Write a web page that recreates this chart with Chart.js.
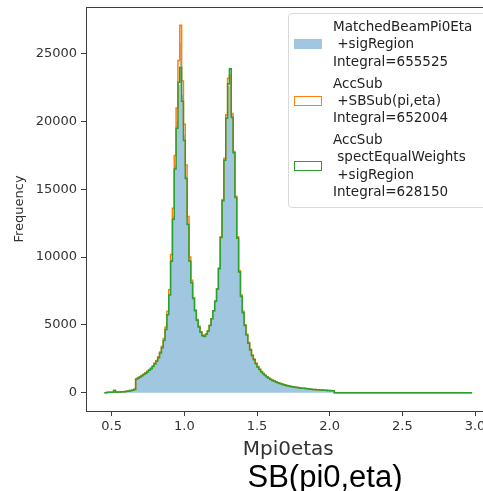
<!DOCTYPE html>
<html>
<head>
<meta charset="utf-8">
<script src="https://cdn.jsdelivr.net/npm/chart.js@4.4.1/dist/chart.umd.min.js"></script>
<style>
  html, body { margin: 0; padding: 0; background: #fff; }
  #wrap { position: relative; width: 483px; height: 491px; overflow: hidden; }
  #chart { position: absolute; left: 0; top: 0; }
  #legend {
    position: absolute; left: 288px; top: 13px; width: 205px; height: 195px;
    border: 1px solid #d9d9d9; border-radius: 4px; background: rgba(255,255,255,0.8);
    font-family: "DejaVu Sans", sans-serif; font-size: 13.5px; color: #222;
    box-sizing: border-box; padding-top: 4px;
  }
  .entry { display: flex; align-items: center; margin-bottom: 4.3px; }
  .handle { width: 28px; height: 10px; margin-left: 5px; margin-right: 11px; box-sizing: border-box; flex: none; }
  .text { white-space: pre; line-height: 17.4px; }
  #title {
    position: absolute; left: 325px; top: 461px; transform: translateX(-50%);
    font-family: "Liberation Sans", Arial, sans-serif; font-size: 31px; line-height: 31px;
    color: #000; white-space: nowrap;
  }
</style>
</head>
<body>
<div id="wrap">
  <canvas id="chart" width="520" height="491"></canvas>
  <div id="legend"></div>
  <div id="title">SB(pi0,eta)</div>
</div>
<script>
// histogram binning (200 bins between binLo and binHi, only the filled ones listed)
const binLo = 0.45;
const binHi = 2.98;
const nBins = 200;

const xTicks = [0.5, 1.0, 1.5, 2.0, 2.5, 3.0];
const yTicks = [0, 5000, 10000, 15000, 20000, 25000];

const seriesLabels = [
  'MatchedBeamPi0Eta\n +sigRegion',
  'AccSub\n +SBSub(pi,eta)',
  'AccSub\n spectEqualWeights\n +sigRegion'
];
const integrals = [655525, 652004, 628150];

// MatchedBeamPi0Eta +sigRegion
const sigCounts = [
  0, 0, 10, 20, 20, 30, 160, 30, 40, 50, 60, 70, 90, 110, 130, 160, 190, 250,
  1000, 1100, 1180, 1260, 1350, 1450, 1560, 1680, 1800, 1950, 2150, 2350, 2600, 2950, 3350,
  3900, 4700, 5800, 7300, 9800, 13000, 16800, 20000, 22700, 25800, 22000, 19000, 16000, 12500,
  9800, 8200, 7000, 6100, 5400, 4900, 4500, 4250, 4200, 4350, 4600, 5000, 5500, 6100, 6800, 7700, 9200, 11500, 14200,
  17200, 20300, 22600, 23000, 20500,
  17800, 14500, 11500, 9000, 7200, 6000, 5000, 4300, 3700, 3200,
  2800, 2500, 2200, 1950, 1750, 1580, 1430, 1300, 1190, 1090,
  1000, 930, 870, 810, 750, 700, 650, 610, 570, 535,
  500, 470, 445, 420, 400, 380, 360, 340, 325, 310,
  295, 280, 265, 250, 240, 230, 220, 210, 200, 190,
  180, 170, 160, 150, 140
];

// AccSub +SBSub(pi,eta)
const sbSubCounts = [
  0, 0, 10, 20, 20, 30, 150, 30, 40, 50, 60, 70, 90, 110, 130, 160, 190, 250,
  1000, 1100, 1180, 1270, 1360, 1460, 1570, 1690, 1820, 1970, 2180, 2380, 2640, 3000, 3420,
  4000, 4850, 6000, 7600, 10200, 13600, 17500, 21000, 24500, 27100, 23000, 19800, 16800, 13000,
  10000, 8300, 7000, 6100, 5400, 4900, 4500, 4250, 4200, 4300, 4550, 4950, 5450, 6050, 6750, 7650, 9200, 11500, 14250,
  17300, 20500, 23200, 23400, 20600,
  17800, 14500, 11500, 9000, 7200, 6000, 5000, 4300, 3700, 3200,
  2780, 2480, 2180, 1930, 1730, 1560, 1410, 1280, 1170, 1070,
  980, 910, 850, 790, 735, 685, 635, 595, 555, 520,
  490, 460, 435, 410, 390, 370, 350, 330, 315, 300,
  285, 270, 255, 240, 230, 220, 210, 200, 190, 180,
  170, 160, 150, 140, 130
];

// AccSub spectEqualWeights +sigRegion
const eqWeightCounts = [
  0, 0, 10, 20, 20, 30, 150, 30, 40, 50, 60, 70, 85, 105, 125, 150, 180, 240,
  980, 1080, 1160, 1240, 1330, 1420, 1530, 1650, 1770, 1920, 2120, 2320, 2570, 2920, 3320,
  3850, 4650, 5750, 7200, 9700, 12800, 16500, 19500, 22900, 24000, 21500, 18600, 15800, 12400,
  9700, 8100, 6950, 6050, 5350, 4850, 4450, 4200, 4150, 4300, 4550, 4950, 5450, 6050, 6750, 7650, 9150, 11450, 14150,
  17150, 20250, 22800, 23900, 20300,
  17700, 14400, 11400, 8900, 7100, 5900, 4950, 4250, 3650, 3150,
  2720, 2420, 2130, 1890, 1700, 1530, 1390, 1260, 1150, 1060,
  970, 900, 840, 785, 725, 680, 630, 590, 550, 515,
  485, 455, 430, 405, 385, 365, 345, 330, 315, 300,
  285, 270, 255, 240, 230, 220, 210, 200, 190, 180,
  170, 160, 150, 140, 130
];

const binWidth = (binHi - binLo) / nBins;

// turn bin contents into points for a stepped line
function stepPoints(counts) {
  const pts = counts.map((c, i) => ({ x: binLo + i * binWidth, y: c }));
  pts.push({ x: binLo + counts.length * binWidth, y: 0 });
  pts.push({ x: binHi, y: 0 });
  return pts;
}

// matplotlib style 5% margins
const xPad = (binHi - binLo) * 0.05;
const yTop = Math.max(...sigCounts, ...sbSubCounts, ...eqWeightCounts);
const yPad = yTop * 0.05;

const axisColor = '#3d3d3d';
const tickFont = { family: 'DejaVu Sans', size: 13 };

// top spine only, the right one lies past the visible width
const topSpine = {
  id: 'topSpine',
  afterDraw(chart) {
    const { ctx, chartArea } = chart;
    ctx.save();
    ctx.strokeStyle = axisColor;
    ctx.lineWidth = 1;
    ctx.beginPath();
    ctx.moveTo(chartArea.left, chartArea.top + 0.5);
    ctx.lineTo(chartArea.right, chartArea.top + 0.5);
    ctx.stroke();
    ctx.restore();
  }
};

new Chart(document.getElementById('chart'), {
  type: 'line',
  data: {
    datasets: [
      {
        label: seriesLabels[0],
        data: stepPoints(sigCounts),
        stepped: 'after',
        fill: 'origin',
        backgroundColor: 'rgba(31,119,180,0.42)',
        borderWidth: 0,
        pointRadius: 0,
        order: 3
      },
      {
        label: seriesLabels[1],
        data: stepPoints(sbSubCounts),
        stepped: 'after',
        fill: false,
        borderColor: '#ff7f0e',
        borderWidth: 1.5,
        pointRadius: 0,
        order: 2
      },
      {
        label: seriesLabels[2],
        data: stepPoints(eqWeightCounts),
        stepped: 'after',
        fill: false,
        borderColor: '#2ca02c',
        borderWidth: 1.5,
        pointRadius: 0,
        order: 1
      }
    ]
  },
  options: {
    responsive: false,
    animation: false,
    devicePixelRatio: 1,
    layout: { padding: { top: 7, right: 29.5, bottom: 0, left: 0 } },
    plugins: { legend: { display: false }, tooltip: { enabled: false } },
    scales: {
      x: {
        type: 'linear',
        min: binLo - xPad,
        max: binHi + xPad,
        afterBuildTicks: (scale) => { scale.ticks = xTicks.map(v => ({ value: v })); },
        afterFit: (scale) => { scale.height = 80; scale.paddingLeft = 0; scale.paddingRight = 0; },
        ticks: {
          autoSkip: false, maxRotation: 0, padding: 3,
          color: '#333', font: tickFont,
          callback: (v) => Number(v).toFixed(1)
        },
        grid: { drawOnChartArea: false, drawTicks: true, tickLength: 5, tickColor: axisColor },
        border: { display: true, color: axisColor, width: 1 },
        title: {
          display: true, text: 'Mpi0etas', color: '#333',
          font: { family: 'DejaVu Sans', size: 20 },
          padding: { top: 0, bottom: 29 }
        }
      },
      y: {
        type: 'linear',
        min: -yPad,
        max: yTop + yPad,
        afterBuildTicks: (scale) => { scale.ticks = yTicks.map(v => ({ value: v })); },
        afterFit: (scale) => { scale.width = 86; scale.paddingTop = 0; scale.paddingBottom = 0; },
        ticks: {
          autoSkip: false, padding: 4,
          color: '#333', font: tickFont,
          callback: (v) => String(v)
        },
        grid: { drawOnChartArea: false, drawTicks: true, tickLength: 5, tickColor: axisColor },
        border: { display: true, color: axisColor, width: 1 },
        title: {
          display: true, text: 'Frequency', color: '#333',
          font: { family: 'DejaVu Sans', size: 13 },
          padding: { top: 12, bottom: 0 }
        }
      }
    }
  },
  plugins: [topSpine]
});

// legend box, one entry per series
const handleStyles = [
  'background: rgba(31,119,180,0.42);',
  'border: 1.5px solid #ff7f0e; background: #fff;',
  'border: 1.5px solid #2ca02c; background: #fff;'
];
document.getElementById('legend').innerHTML = seriesLabels.map((lab, i) =>
  '<div class="entry"><div class="handle" style="' + handleStyles[i] + '"></div>' +
  '<div class="text">' + lab + '\nIntegral=' + integrals[i] + '</div></div>'
).join('');
</script>
</body>
</html>
